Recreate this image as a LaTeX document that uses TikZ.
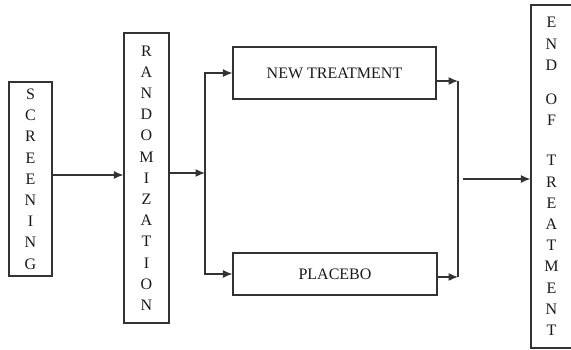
\documentclass[tikz,border=0pt]{standalone}
\usepackage{fontspec}
\setmainfont{Liberation Serif}
\usetikzlibrary{arrows.meta}

\begin{document}
\begin{tikzpicture}[x=1pt, y=-1pt,
  box/.style={draw=black!80, line width=1.2pt, inner sep=0pt, align=center, text=black!90, font=\fontsize{16}{21.2}\selectfont},
  arr/.style={draw=black!80, line width=1.2pt, -{Latex[length=9.5pt,width=8pt]}},
  line/.style={draw=black!80, line width=1.2pt}]
\useasboundingbox (0,0) rectangle (571,350);
\node[box, minimum width=43, minimum height=194] (1) at (30.5,179) {S\\C\\R\\E\\E\\N\\I\\N\\G};
\node[box, minimum width=45, minimum height=290] (2) at (146.5,178) {R\\A\\N\\D\\O\\M\\I\\Z\\A\\T\\I\\O\\N};
\node[box, minimum width=203, minimum height=52] (3) at (334.5,73) {NEW TREATMENT};
\node[box, minimum width=204, minimum height=42] (4) at (335,274) {PLACEBO};
\node[box, minimum width=41, minimum height=343] (5) at (551.5,176.5) {E\\N\\D\\[13pt]O\\F\\[19pt]T\\R\\E\\A\\T\\M\\E\\N\\T};
\coordinate (6) at (205,173);
\coordinate (7) at (458,81);
\coordinate (8) at (458,277);
\coordinate (9) at (463,179);
\draw[arr] (1.east |- 0,175) -- (2.west |- 0,175);
\draw[arr] (2.east |- 6) -- (6);
\draw[arr] (6) |- (3.west);
\draw[arr] (6) |- (4.west);
\draw[arr] (3.east |- 7) -- (7);
\draw[arr] (4.east |- 8) -- (8);
\draw[line] (7) -- (8);
\draw[arr] (9) -- (5.west |- 9);
\end{tikzpicture}
\end{document}
